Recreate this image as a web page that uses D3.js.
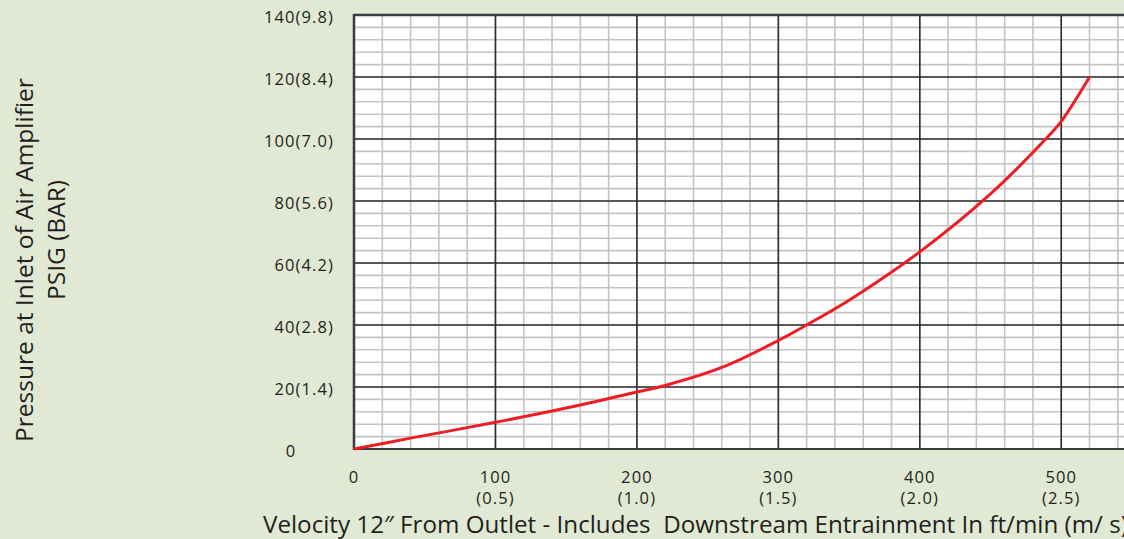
<!DOCTYPE html>
<html><head><meta charset="utf-8">
<script src="https://cdn.jsdelivr.net/npm/d3@7"></script>
<style>
html,body{margin:0;padding:0;background:#e1e8d4;}
svg{display:block;}
text{font-family:"Open Sans",sans-serif;fill:#231f20;}
</style></head><body>
<svg id="c" width="1124" height="539"></svg>
<script>
// Data
const velocity = [0, 40, 100, 150, 200, 220, 260, 300, 320, 350, 400, 450, 489, 500, 520];
const pressure = [0, 3.5, 8.6, 13.2, 18.4, 20.5, 26.3, 35, 40, 48, 63.6, 82.3, 100, 105.7, 120];
const xTicks = [0, 100, 200, 300, 400, 500];
const xTickSub = ["", "(0.5)", "(1.0)", "(1.5)", "(2.0)", "(2.5)"];
const yTicks = [0, 20, 40, 60, 80, 100, 120, 140];
const yTickLabels = ["0", "20(1.4)", "40(2.8)", "60(4.2)", "80(5.6)", "100(7.0)", "120(8.4)", "140(9.8)"];
const xTitle = "Velocity 12\u2033 From Outlet - Includes  Downstream Entrainment In ft/min (m/ s)";
const yTitle1 = "Pressure at Inlet of Air Amplifier";
const yTitle2 = "PSIG (BAR)";

const svg = d3.select("#c");
const x = d3.scaleLinear().domain([0, 560]).range([354, 354 + 560 * 1.4145]);
const y = d3.scaleLinear().domain([0, 140]).range([449, 15]);

// plot background
svg.append("rect").attr("x", x(0)).attr("y", y(140))
  .attr("width", 1124 - x(0) + 10).attr("height", y(0) - y(140)).attr("fill", "#fff");

// minor grid
const g = svg.append("g");
g.selectAll(".vx").data(d3.range(0, 561, 20)).join("line")
  .attr("x1", d => x(d)).attr("x2", d => x(d)).attr("y1", y(0)).attr("y2", y(140))
  .attr("stroke", "#c3c3c3").attr("stroke-width", 1.6);
g.selectAll(".hy").data(d3.range(0, 141, 4)).join("line")
  .attr("x1", x(0)).attr("x2", 1130).attr("y1", d => y(d)).attr("y2", d => y(d))
  .attr("stroke", "#c3c3c3").attr("stroke-width", 1.6);
// major grid
g.selectAll(".mx").data(d3.range(0, 561, 100)).join("line")
  .attr("x1", d => x(d)).attr("x2", d => x(d)).attr("y1", y(0)).attr("y2", y(140))
  .attr("stroke", "#2f2f2f").attr("stroke-width", 1.6);
g.selectAll(".my").data(yTicks).join("line")
  .attr("x1", x(0)).attr("x2", 1130).attr("y1", d => y(d)).attr("y2", d => y(d))
  .attr("stroke", "#2f2f2f").attr("stroke-width", 1.6);
// border
svg.append("line").attr("x1", x(0)).attr("x2", x(0)).attr("y1", y(0)+1).attr("y2", y(140)-1)
  .attr("stroke", "#3a3a3a").attr("stroke-width", 2.5);
svg.append("line").attr("x1", x(0)).attr("x2", 1130).attr("y1", y(140)).attr("y2", y(140))
  .attr("stroke", "#3a3a3a").attr("stroke-width", 2.5);
svg.append("line").attr("x1", x(0)).attr("x2", 1130).attr("y1", y(0)).attr("y2", y(0))
  .attr("stroke", "#3a3a3a").attr("stroke-width", 2);

// curve
const pts = velocity.map((v, i) => [v, pressure[i]]);
svg.append("path").datum(pts)
  .attr("d", d3.line().x(d => x(d[0])).y(d => y(d[1])).curve(d3.curveCatmullRom.alpha(0.5)))
  .attr("fill", "none").attr("stroke", "#ee1c24").attr("stroke-width", 3);

const tf = 16.5, ls = 1.1;
// y tick labels
svg.selectAll(".yl").data(yTicks).join("text")
  .attr("x", d => d === 0 ? 291 : 334)
  .attr("y", d => y(d) + 2)
  .attr("dy", "0.35em")
  .attr("text-anchor", d => d === 0 ? "middle" : "end")
  .attr("font-size", tf).attr("letter-spacing", ls)
  .text((d, i) => yTickLabels[i]);

// x tick labels
svg.selectAll(".xl").data(xTicks).join("text")
  .attr("x", d => x(d)).attr("y", 483)
  .attr("text-anchor", "middle").attr("font-size", tf).attr("letter-spacing", ls)
  .text(d => d);
svg.selectAll(".xs").data(xTicks).join("text")
  .attr("x", d => x(d)).attr("y", 504)
  .attr("text-anchor", "middle").attr("font-size", tf).attr("letter-spacing", ls)
  .text((d, i) => xTickSub[i]);

// axis titles
svg.append("text").attr("x", 263).attr("y", 533)
  .attr("font-size", 24.2).style("white-space", "pre").text(xTitle);
svg.append("text").attr("transform", "translate(33,260) rotate(-90)")
  .attr("text-anchor", "middle").attr("font-size", 24.5).text(yTitle1);
svg.append("text").attr("transform", "translate(65,240) rotate(-90)")
  .attr("text-anchor", "middle").attr("font-size", 24.5).text(yTitle2);
</script></body></html>
